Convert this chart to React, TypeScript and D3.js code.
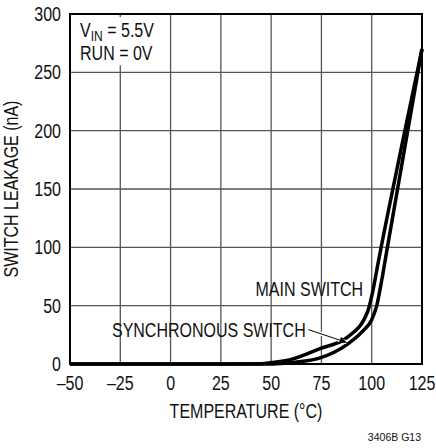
import { useEffect, useRef } from "react";
import * as d3 from "d3";

// temperature (°C) vs leakage (nA)
const mainTemp = [-50, 0, 25, 45, 50, 60, 74, 88, 98, 100.5, 103, 116.5, 125];
const mainLeak = [0, 0, 0, 0.3, 1.2, 4, 13, 23, 45, 62, 85, 200, 270];
const syncTemp = [-50, 0, 25, 48, 55, 62, 74, 88, 96, 100, 102.5, 105, 107.6, 125];
const syncLeak = [0, 0, 0, 0, 0.5, 1.5, 5, 17, 29, 38, 50, 72, 98, 270];

const xTicks = [-50, -25, 0, 25, 50, 75, 100, 125];
const yTicks = [0, 50, 100, 150, 200, 250, 300];

const FONT = "'Liberation Sans', Arial, Helvetica, sans-serif";
const FS = 20;
const SQUEEZE = 0.8; // condensed look

export default function App() {
  const svgRef = useRef<SVGSVGElement>(null);

  useEffect(() => {
    if (!svgRef.current) return;
    const width = 436;
    const height = 448;
    const margin = { top: 14, right: 14, bottom: 84, left: 70 };

    d3.select(svgRef.current).selectAll("*").remove();
    const svg = d3
      .select(svgRef.current)
      .attr("width", width)
      .attr("height", height)
      .style("font-family", FONT);

    const x = d3.scaleLinear().domain([-50, 125]).range([margin.left, width - margin.right]);
    const y = d3.scaleLinear().domain([0, 300]).range([height - margin.bottom, margin.top]);

    // condensed text helper
    const label = (
      px: number,
      py: number,
      txt: string,
      anchor = "start",
      extra = ""
    ) => {
      const g = svg
        .append("g")
        .attr("transform", `translate(${px},${py}) ${extra} scale(${SQUEEZE},1)`);
      return g
        .append("text")
        .attr("font-size", FS)
        .attr("text-anchor", anchor)
        .attr("fill", "#111")
        .text(txt);
    };

    // grid
    svg
      .append("g")
      .selectAll("line")
      .data(xTicks.slice(1, -1))
      .join("line")
      .attr("x1", (d) => x(d))
      .attr("x2", (d) => x(d))
      .attr("y1", y(0))
      .attr("y2", y(300))
      .attr("stroke", "#555")
      .attr("stroke-width", 1.3);
    svg
      .append("g")
      .selectAll("line")
      .data(yTicks.slice(1, -1))
      .join("line")
      .attr("x1", x(-50))
      .attr("x2", x(125))
      .attr("y1", (d) => y(d))
      .attr("y2", (d) => y(d))
      .attr("stroke", "#555")
      .attr("stroke-width", 1.3);

    // white box behind the conditions text
    svg
      .append("rect")
      .attr("x", x(-50) + 2)
      .attr("y", y(300) + 3)
      .attr("width", x(-5) - x(-50))
      .attr("height", y(256) - y(300) - 3)
      .attr("fill", "#fff");

    // frame
    svg
      .append("rect")
      .attr("x", x(-50))
      .attr("y", y(300))
      .attr("width", x(125) - x(-50))
      .attr("height", y(0) - y(300))
      .attr("fill", "none")
      .attr("stroke", "#000")
      .attr("stroke-width", 2);

    // tick labels
    xTicks.forEach((d) =>
      label(x(d), y(0) + 26, d < 0 ? "\u2013" + Math.abs(d) : String(d), "middle")
    );
    yTicks.forEach((d) => label(x(-50) - 9, y(d) + 7, String(d), "end"));

    // axis titles
    label((x(-50) + x(125)) / 2, y(0) + 54, "TEMPERATURE (°C)", "middle");
    label(18, (y(0) + y(300)) / 2, "SWITCH LEAKAGE (nA)", "middle", "rotate(-90)");
    svg
      .append("text")
      .attr("x", 421)
      .attr("y", 441)
      .attr("text-anchor", "end")
      .attr("font-size", 10.5)
      .attr("fill", "#111")
      .text("3406B G13");

    // curves
    const line = d3
      .line<[number, number]>()
      .x((d) => x(d[0]))
      .y((d) => y(d[1]))
      .curve(d3.curveMonotoneX);
    const mainData = mainTemp.map((t, i) => [t, mainLeak[i]] as [number, number]);
    const syncData = syncTemp.map((t, i) => [t, syncLeak[i]] as [number, number]);
    [mainData, syncData].forEach((d) => {
      svg
        .append("path")
        .datum(d)
        .attr("d", line)
        .attr("fill", "none")
        .attr("stroke", "#000")
        .attr("stroke-width", 3.5)
        .attr("stroke-linejoin", "round");
    });

    // annotations
    label(x(95.7), y(58.5), "MAIN SWITCH", "end");
    label(x(67.2), y(23.5), "SYNCHRONOUS SWITCH", "end");

    const defs = svg.append("defs");
    defs
      .append("marker")
      .attr("id", "arrow")
      .attr("viewBox", "0 0 10 10")
      .attr("refX", 10)
      .attr("refY", 5)
      .attr("markerWidth", 11)
      .attr("markerHeight", 7)
      .attr("markerUnits", "userSpaceOnUse")
      .attr("orient", "auto")
      .append("path")
      .attr("d", "M0,0 L10,5 L0,10 Z")
      .attr("fill", "#000");

    const tail: [number, number] = [68.5, 29.5];
    const tip: [number, number] = [87.5, 18.5];
    svg
      .append("line")
      .attr("x1", x(tail[0]))
      .attr("y1", y(tail[1]))
      .attr("x2", x(tip[0]))
      .attr("y2", y(tip[1]))
      .attr("stroke", "#fff")
      .attr("stroke-width", 4);
    svg
      .append("line")
      .attr("x1", x(tail[0]))
      .attr("y1", y(tail[1]))
      .attr("x2", x(tip[0]))
      .attr("y2", y(tip[1]))
      .attr("stroke", "#000")
      .attr("stroke-width", 1)
      .attr("marker-end", "url(#arrow)");

    // conditions
    const v = label(x(-45), y(280.5), "");
    v.append("tspan").text("V");
    v.append("tspan").attr("font-size", 15).attr("dy", 4).text("IN");
    v.append("tspan").attr("dy", -4).text(" = 5.5V");
    label(x(-45), y(261), "RUN = 0V");
  }, []);

  return (
    <svg
      ref={svgRef}
      style={{ position: "absolute", left: 0, top: 0, background: "#fff" }}
    />
  );
}
